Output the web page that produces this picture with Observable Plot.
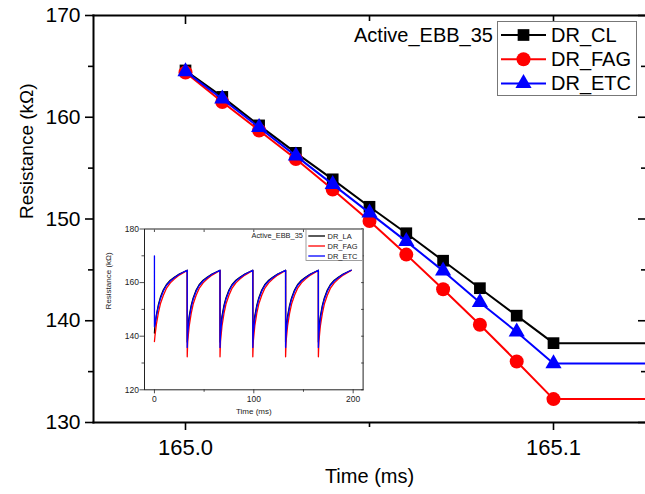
<!DOCTYPE html>
<html><head><meta charset="utf-8">
<script src="https://cdn.jsdelivr.net/npm/d3@7"></script>
<script src="https://cdn.jsdelivr.net/npm/@observablehq/plot@0.6"></script>
<style>
body{margin:0;background:#fff;}
#wrap{position:relative;width:645px;height:494px;overflow:hidden;font-family:"Liberation Sans",Arial,sans-serif;background:#fff;}
#wrap > svg, #wrap > div{position:absolute;}
</style></head><body><div id="wrap"></div>
<script>
// ---- main chart data ----
const mainTimes = [165.00, 165.01, 165.02, 165.03, 165.04, 165.05, 165.06, 165.07, 165.08, 165.09, 165.10];
const drCL  = [164.6, 162.0, 159.2, 156.5, 153.9, 151.2, 148.6, 145.9, 143.2, 140.5, 137.8];
const drFAG = [164.4, 161.5, 158.7, 155.9, 152.9, 149.8, 146.5, 143.1, 139.6, 136.0, 132.3];
const drETC = [164.5, 161.8, 159.0, 156.2, 153.4, 150.6, 147.8, 144.9, 141.8, 138.9, 135.8];
const tailTime = 165.13; // values stay flat after 165.1 to the right edge
const mainNames = ["DR_CL", "DR_FAG", "DR_ETC"];
const mainTitle = "Active_EBB_35";

const xMajorTicks = [165.0, 165.1];
const xMinorTicks = [165.05];
const yMajorTicks = [130, 140, 150, 160, 170];
const yMinorTicks = [135, 145, 155, 165];

// ---- inset data (sawtooth, one profile read per cycle) ----
const insetCycleStarts = [0, 33, 66, 99, 132, 165];
const insetCycleOffsets = [0, 0.5, 2, 4, 6, 9, 12, 16, 20, 25, 33];
const insetLA       = [137.8, 143.0, 147.5, 151.5, 154.3, 157.2, 159.2, 160.9, 162.0, 163.2, 164.6];
const insetFAG      = [132.3, 138.0, 143.8, 148.5, 152.0, 155.3, 157.8, 159.9, 161.3, 162.8, 164.5];
const insetETC      = [135.8, 141.0, 146.6, 150.8, 153.8, 156.8, 158.9, 160.6, 161.8, 163.1, 164.6];
const insetLAFirst  = [141.2, 144.0, 148.0, 151.8, 154.5, 157.3, 159.2, 160.9, 162.0, 163.2, 164.6];
const insetFAGFirst = [138.0, 140.0, 144.5, 148.8, 152.1, 155.3, 157.8, 159.9, 161.3, 162.8, 164.5];
const insetETCFirst = [143.5, 144.2, 147.6, 151.2, 154.0, 156.9, 158.9, 160.6, 161.8, 163.1, 164.6];
const insetETCStart = 170;
const insetNames = ["DR_LA", "DR_FAG", "DR_ETC"];
const insetXMajor = [0, 100, 200];
const insetXMinor = [50, 150];
const insetYMajor = [120, 140, 160, 180];
const insetYMinor = [130, 150, 170];

const colors = {DR_CL: "#000000", DR_LA: "#000000", DR_FAG: "#ff0000", DR_ETC: "#0000ff"};
const FONT = "Liberation Sans, Arial, sans-serif";
const noLabel = () => "";

// ---- build tables ----
function mainSeries(name, values) {
  const rows = mainTimes.map((t, i) => ({series: name, t, r: values[i]}));
  rows.push({series: name, t: tailTime, r: values[values.length - 1]});
  return rows;
}
const mainData = {
  DR_CL: mainSeries("DR_CL", drCL),
  DR_FAG: mainSeries("DR_FAG", drFAG),
  DR_ETC: mainSeries("DR_ETC", drETC)
};
function insetSeries(name, first, later, start) {
  const pts = [];
  if (start != null) pts.push({series: name, t: insetCycleStarts[0], r: start});
  insetCycleStarts.forEach((c, k) => {
    const vals = k === 0 ? first : later;
    insetCycleOffsets.forEach((dt, i) => pts.push({series: name, t: c + dt, r: vals[i]}));
  });
  return pts;
}
const insetData = [
  insetSeries("DR_LA", insetLAFirst, insetLA),
  insetSeries("DR_FAG", insetFAGFirst, insetFAG),
  insetSeries("DR_ETC", insetETCFirst, insetETC, insetETCStart)
];

const wrap = document.getElementById("wrap");

// ---- inset chart (below main layer) ----
const insetBox = {left: 98, top: 213, width: 270, height: 207};
const insetColor = "#222";
const inset = Plot.plot({
  width: insetBox.width, height: insetBox.height,
  marginLeft: 46, marginRight: 5.4, marginTop: 15.5, marginBottom: 30.7,
  x: {domain: [-10, 210]},
  y: {domain: [120, 180]},
  style: {fontFamily: FONT, color: insetColor, background: "#fff"},
  marks: [
    Plot.frame({stroke: insetColor, strokeWidth: 1}),
    ...insetData.map(d => Plot.line(d, {x: "t", y: "r", stroke: colors[d[0].series], strokeWidth: 1.3})),
    Plot.axisX({ticks: insetXMajor, tickSize: 4, tickPadding: 2, fontSize: 8.5, label: null, strokeWidth: 0.8}),
    Plot.axisX({ticks: insetXMinor, tickSize: 2.5, tickFormat: noLabel, label: null, strokeWidth: 0.8}),
    Plot.axisX({anchor: "top", ticks: [...insetXMajor, ...insetXMinor], tickSize: -2.5, tickFormat: noLabel, label: null, strokeWidth: 0.8}),
    Plot.axisY({ticks: insetYMajor, tickSize: 4.5, tickPadding: 1, fontSize: 8.5, label: null, strokeWidth: 0.8}),
    Plot.axisY({ticks: insetYMinor, tickSize: 2.5, tickFormat: noLabel, label: null, strokeWidth: 0.8}),
    Plot.axisY({anchor: "right", ticks: [...insetYMajor, ...insetYMinor], tickSize: -2.5, tickFormat: noLabel, label: null, strokeWidth: 0.8}),
    Plot.text(["Time (ms)"], {text: d => d, frameAnchor: "bottom", dy: 24, fontSize: 8, fill: insetColor}),
    Plot.text(["Resistance (k\u03a9)"], {text: d => d, frameAnchor: "left", dx: -36, rotate: -90, fontSize: 8, fill: insetColor})
  ]
});
inset.style.left = insetBox.left + "px";
inset.style.top = insetBox.top + "px";
wrap.appendChild(inset);

// ---- main chart ----
const mainStyles = {
  DR_CL: {symbol: "square", r: 6.6},
  DR_FAG: {symbol: "circle", r: 7},
  DR_ETC: {symbol: "triangle", r: 6}
};
const main = Plot.plot({
  width: 645, height: 494,
  marginLeft: 93, marginRight: 0, marginTop: 15, marginBottom: 72,
  x: {domain: [164.975, 165.125]},
  y: {domain: [130, 170]},
  style: {fontFamily: FONT, color: "#000", background: "transparent"},
  marks: [
    ...mainNames.flatMap(n => [
      Plot.line(mainData[n], {x: "t", y: "r", stroke: colors[n], strokeWidth: 2, clip: true}),
      Plot.dot(mainData[n].slice(0, mainTimes.length), {x: "t", y: "r", fill: colors[n], stroke: "none", symbol: mainStyles[n].symbol, r: mainStyles[n].r})
    ]),
    Plot.frame({anchor: "left", strokeWidth: 2}),
    Plot.frame({anchor: "top", strokeWidth: 2}),
    Plot.frame({anchor: "bottom", strokeWidth: 2}),
    Plot.axisX({ticks: xMajorTicks, tickFormat: d3.format(".1f"), tickSize: 8, tickPadding: 9, fontSize: 22, label: null, strokeWidth: 1.6}),
    Plot.axisX({ticks: xMinorTicks, tickSize: 5, tickFormat: noLabel, label: null, strokeWidth: 1.6}),
    Plot.axisX({anchor: "top", ticks: xMajorTicks, tickSize: -8, tickFormat: noLabel, label: null, strokeWidth: 1.6}),
    Plot.axisX({anchor: "top", ticks: xMinorTicks, tickSize: -5, tickFormat: noLabel, label: null, strokeWidth: 1.6}),
    Plot.axisY({ticks: yMajorTicks, tickSize: 8, tickPadding: 5, fontSize: 21, label: null, strokeWidth: 1.6}),
    Plot.axisY({ticks: yMinorTicks, tickSize: 5, tickFormat: noLabel, label: null, strokeWidth: 1.6}),
    Plot.axisY({anchor: "right", ticks: yMajorTicks, tickSize: -8, tickFormat: noLabel, label: null, strokeWidth: 1.6}),
    Plot.axisY({anchor: "right", ticks: yMinorTicks, tickSize: -5, tickFormat: noLabel, label: null, strokeWidth: 1.6}),
    Plot.text(["Time (ms)"], {text: d => d, frameAnchor: "bottom", dy: 60, fontSize: 20}),
    Plot.text(["Resistance (k\u03a9)"], {text: d => d, frameAnchor: "left", dx: -67, rotate: -90, fontSize: 19})
  ]
});
main.style.left = "0px";
main.style.top = "0px";
wrap.appendChild(main);

// ---- legends overlay ----
const ov = d3.select(wrap).append("svg").attr("width", 645).attr("height", 494)
  .style("left", "0px").style("top", "0px").attr("font-family", FONT);

// main legend
ov.append("text").attr("x", 354).attr("y", 42).attr("font-size", 20).text(mainTitle);
ov.append("rect").attr("x", 497.5).attr("y", 21.5).attr("width", 139).attr("height", 74)
  .attr("fill", "#fff").attr("stroke", "#777").attr("stroke-width", 1);
const symMap = {square: d3.symbolSquare, circle: d3.symbolCircle, triangle: d3.symbolTriangle};
mainNames.forEach((n, i) => {
  const y = 35 + i * 24.2;
  ov.append("line").attr("x1", 501).attr("x2", 546).attr("y1", y).attr("y2", y)
    .attr("stroke", colors[n]).attr("stroke-width", 2);
  const st = mainStyles[n];
  ov.append("path").attr("transform", `translate(523.5,${y})`)
    .attr("d", d3.symbol(symMap[st.symbol], Math.PI * st.r * st.r)()).attr("fill", colors[n]);
  ov.append("text").attr("x", 551).attr("y", y + 7).attr("font-size", 20).text(n);
});

// inset legend
ov.append("text").attr("x", 251.5).attr("y", 237.6).attr("font-size", 7.4).attr("fill", insetColor).text(mainTitle);
ov.append("rect").attr("x", 306).attr("y", 229.5).attr("width", 56.5).attr("height", 31)
  .attr("fill", "#fff").attr("stroke", "#888").attr("stroke-width", 0.8);
insetNames.forEach((n, i) => {
  const y = 236 + i * 10;
  ov.append("line").attr("x1", 308.3).attr("x2", 325).attr("y1", y).attr("y2", y)
    .attr("stroke", colors[n]).attr("stroke-width", 1.3);
  ov.append("text").attr("x", 327.5).attr("y", y + 2.7).attr("font-size", 7.5).attr("fill", insetColor).text(n);
});
</script></body></html>
